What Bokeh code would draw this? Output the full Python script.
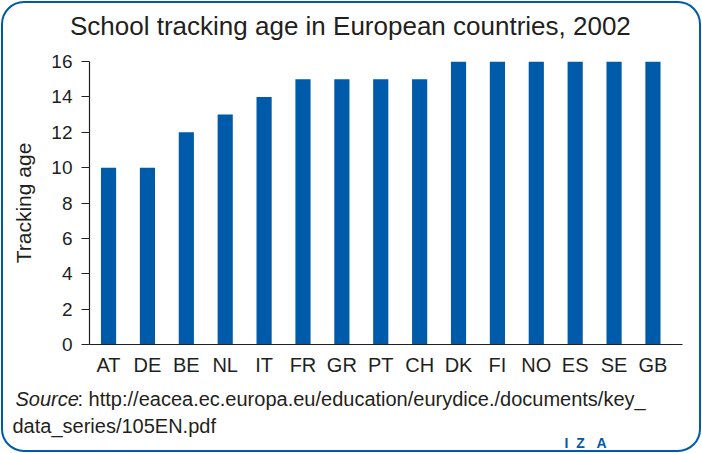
from bokeh.plotting import figure
from bokeh.models import Range1d, FixedTicker, Label
from bokeh.embed import file_html
from bokeh.resources import INLINE

countries = ["AT", "DE", "BE", "NL", "IT", "FR", "GR", "PT", "CH", "DK", "FI", "NO", "ES", "SE", "GB"]
tracking_age = [10, 10, 12, 13, 14, 15, 15, 15, 15, 16, 16, 16, 16, 16, 16]
y_ticks = [0, 2, 4, 6, 8, 10, 12, 14, 16]

title_text = "School tracking age in European countries, 2002"
y_label = "Tracking age"
source_label = "Source"
source_line1 = ": http://eacea.ec.europa.eu/education/eurydice./documents/key_"
source_line2 = "data_series/105EN.pdf"
logo_text = "I\u00a0\u00a0Z\u00a0\u00a0\u00a0A"

BLUE = "#005AAA"
TEXT = "#231F20"
FONT = "Liberation Sans"

xpos = list(range(len(countries)))

p = figure(width=702, height=453, output_backend="svg", toolbar_location=None,
           x_range=Range1d(-0.49, len(countries) - 1 + 0.76),
           y_range=Range1d(0, 16),
           min_border_left=89, min_border_right=20,
           min_border_top=61, min_border_bottom=109)
p.outline_line_color = None
p.background_fill_color = None
p.border_fill_color = None
p.styles = {"border-radius": "24px", "outline": "2.5px solid " + BLUE,
            "outline-offset": "-3px"}

p.vbar(x=xpos, top=tracking_age, width=0.39, fill_color=BLUE, line_color=None)

p.xgrid.grid_line_color = None
p.ygrid.grid_line_color = None

# x axis
p.xaxis.ticker = FixedTicker(ticks=xpos)
p.xaxis.major_label_overrides = {i: c for i, c in enumerate(countries)}
p.xaxis.major_tick_out = 0
p.xaxis.major_tick_in = 0
p.xaxis.minor_tick_out = 0
p.xaxis.minor_tick_in = 0
p.xaxis.axis_line_color = TEXT
p.xaxis.axis_line_width = 1.2
p.xaxis.major_label_standoff = 9
p.xaxis.major_label_text_font = FONT
p.xaxis.major_label_text_font_size = "20px"
p.xaxis.major_label_text_color = TEXT

# y axis
p.yaxis.ticker = FixedTicker(ticks=y_ticks)
p.yaxis.major_tick_out = 8
p.yaxis.major_tick_in = 0
p.yaxis.minor_tick_out = 0
p.yaxis.minor_tick_in = 0
p.yaxis.axis_line_color = TEXT
p.yaxis.axis_line_width = 1.2
p.yaxis.major_tick_line_color = TEXT
p.yaxis.major_tick_line_width = 1.2
p.yaxis.major_label_standoff = 9
p.yaxis.major_label_text_font = FONT
p.yaxis.major_label_text_font_size = "19px"
p.yaxis.major_label_text_color = TEXT
p.yaxis.axis_label = y_label
p.yaxis.axis_label_text_font = FONT
p.yaxis.axis_label_text_font_size = "21px"
p.yaxis.axis_label_text_font_style = "normal"
p.yaxis.axis_label_text_color = TEXT
p.yaxis.axis_label_standoff = 13

# title (placed in canvas pixels)
p.add_layout(Label(x=69.5, y=25, x_units="canvas", y_units="canvas", text=title_text,
                   text_font=FONT, text_font_size="26px", text_color=TEXT,
                   text_baseline="alphabetic", text_align="left"), "above")

# logo (canvas pixels; kept in the top panel to spare the bottom border)
p.add_layout(Label(x=564, y=442, x_units="canvas", y_units="canvas", text=logo_text,
                   text_font=FONT, text_font_size="14px", text_font_style="bold",
                   text_color=BLUE, text_baseline="alphabetic", text_align="left"), "above")

# source
p.add_layout(Label(x=15, y=398.5, x_units="canvas", y_units="canvas", text=source_label,
                   text_font=FONT, text_font_size="20px", text_font_style="italic",
                   text_color=TEXT, text_baseline="alphabetic", text_align="left"), "below")
p.add_layout(Label(x=77, y=398.5, x_units="canvas", y_units="canvas", text=source_line1,
                   text_font=FONT, text_font_size="20px",
                   text_color=TEXT, text_baseline="alphabetic", text_align="left"), "below")
p.add_layout(Label(x=12, y=425, x_units="canvas", y_units="canvas", text=source_line2,
                   text_font=FONT, text_font_size="20px",
                   text_color=TEXT, text_baseline="alphabetic", text_align="left"), "below")

open("out.html", "w").write(file_html(p, INLINE))
